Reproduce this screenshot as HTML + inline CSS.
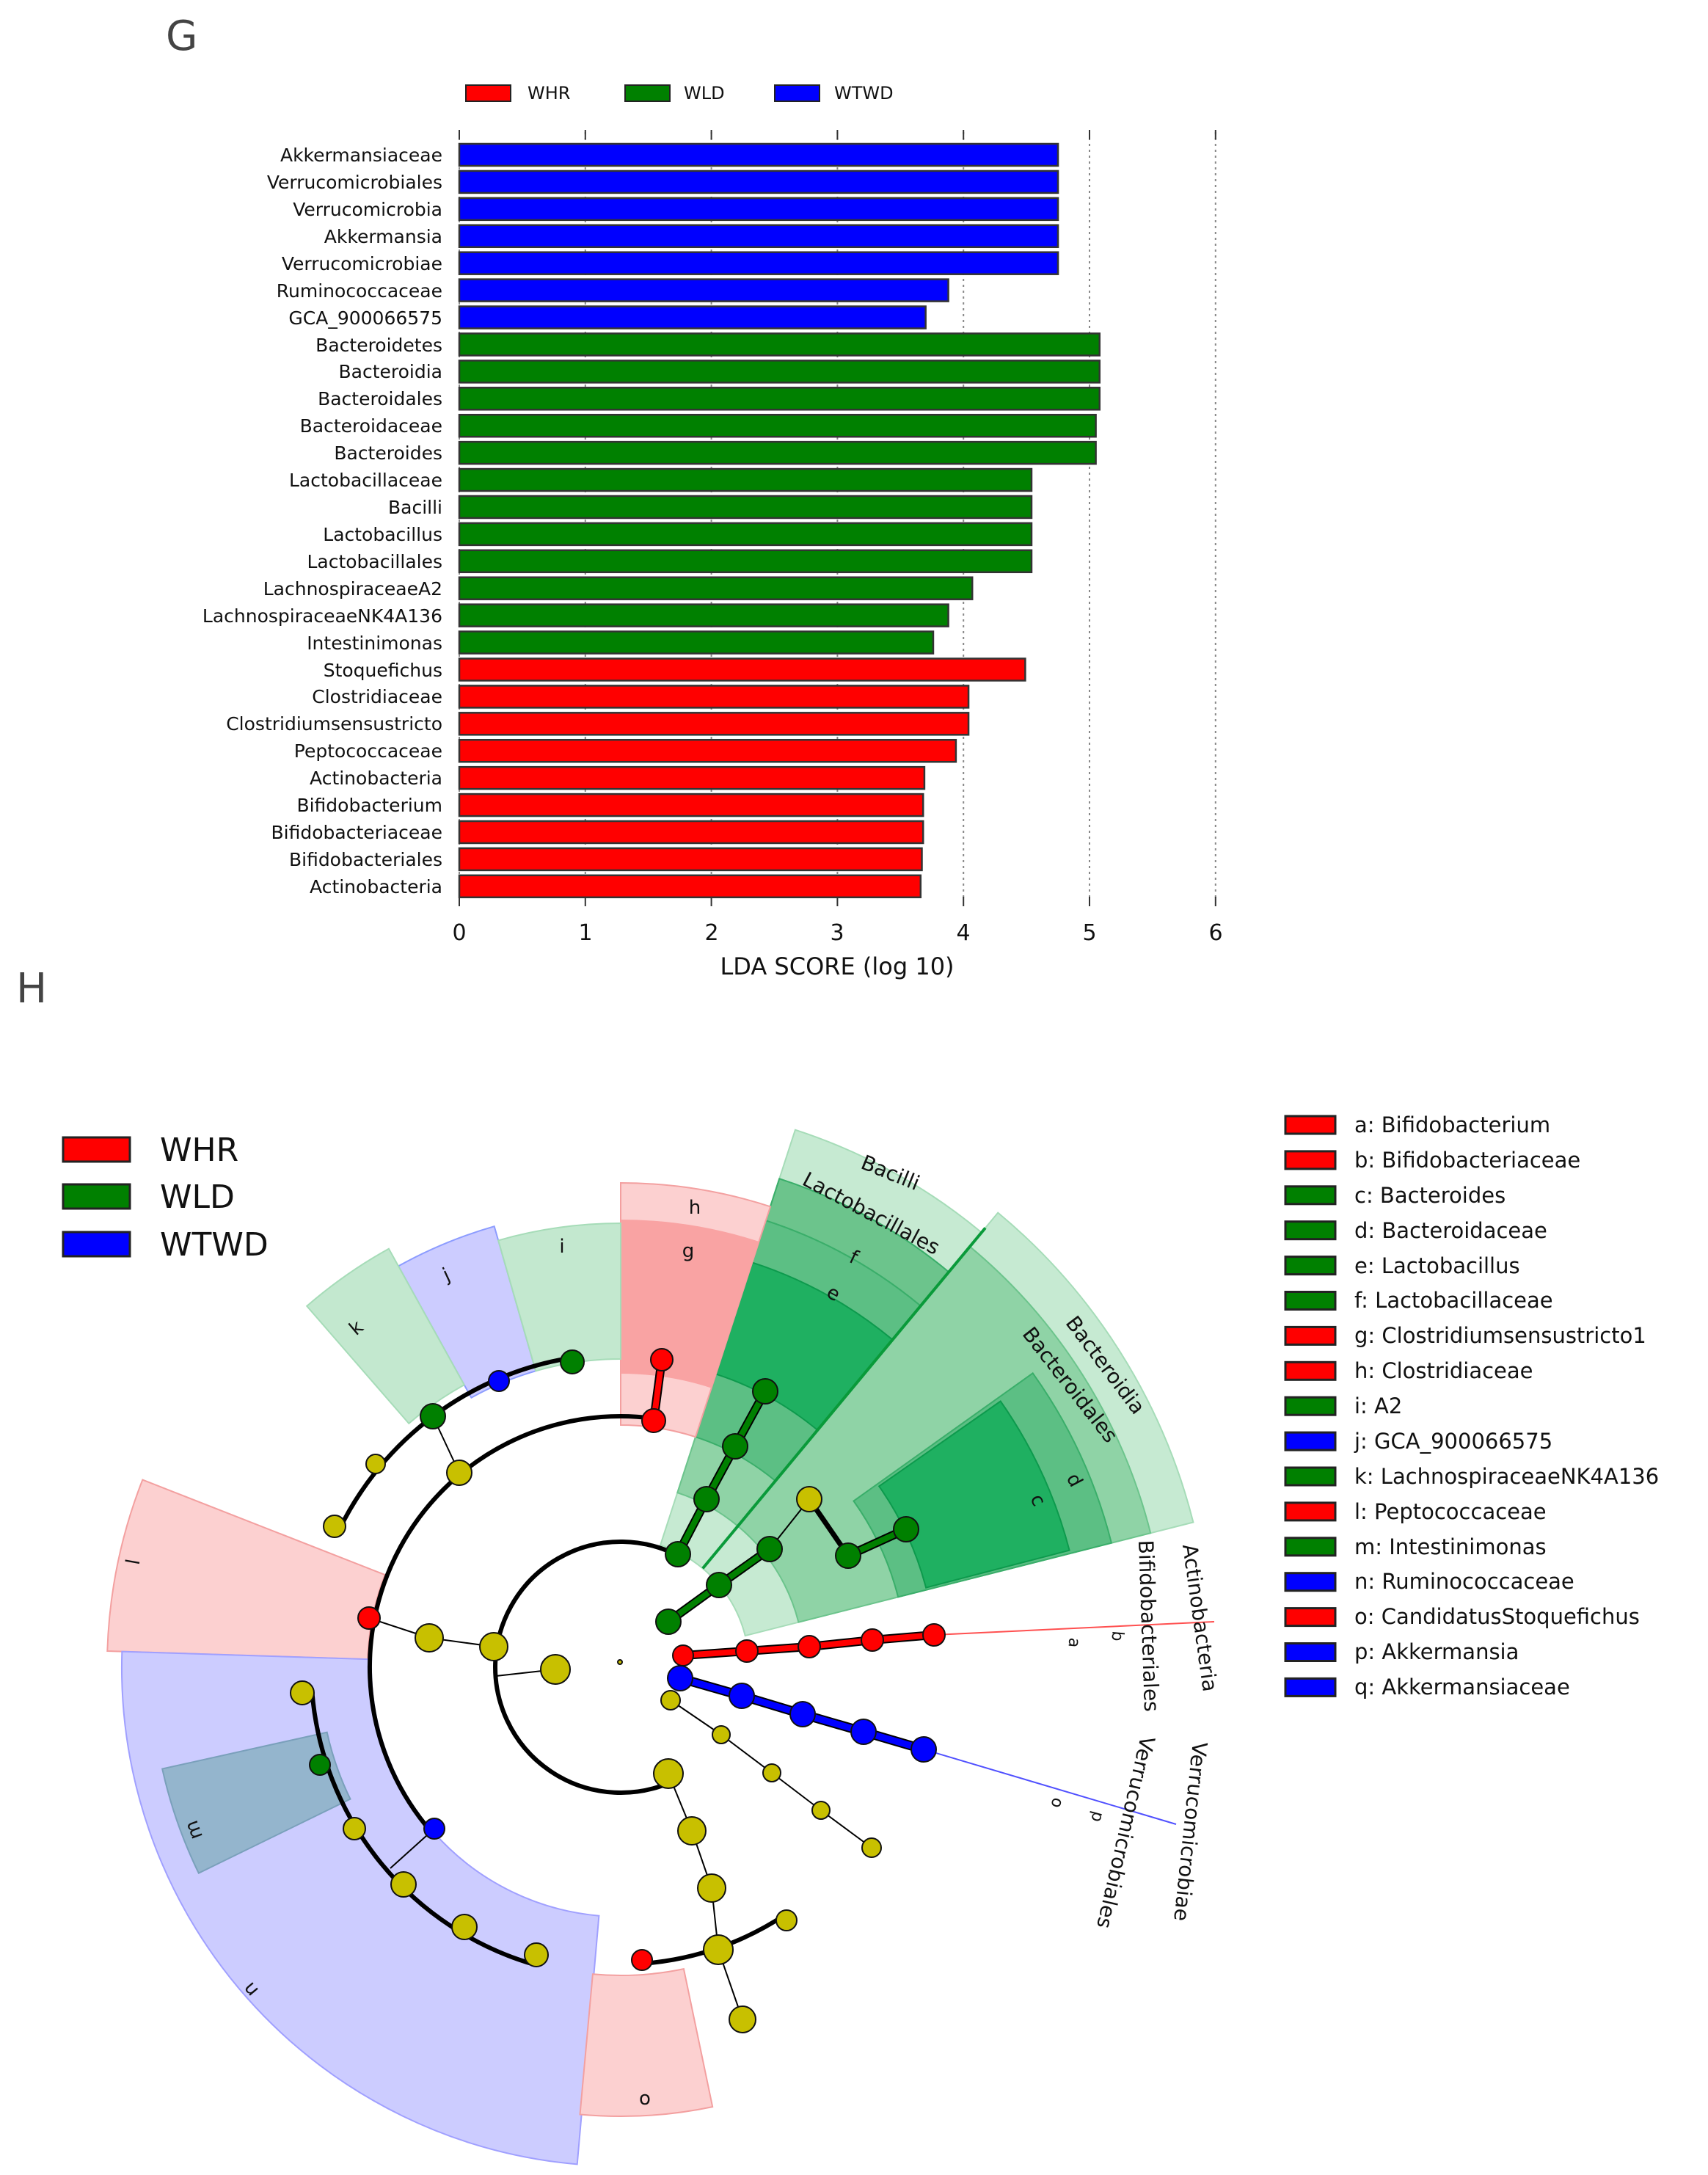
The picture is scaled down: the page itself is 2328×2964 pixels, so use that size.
<!DOCTYPE html>
<html><head><meta charset="utf-8"><style>
html,body{margin:0;padding:0;background:#fff;width:2328px;height:2964px;overflow:hidden}
svg{display:block}
text{font-family:"DejaVu Sans","Liberation Sans",sans-serif;fill:#111}
</style></head><body>
<svg id="s" width="2328" height="2964" viewBox="0 0 2328 2964" xmlns="http://www.w3.org/2000/svg">
<g id="sectors"></g>
<text x="226" y="68" font-size="56" style="fill:#444">G</text>
<text x="22" y="1366" font-size="56" style="fill:#444">H</text>
<!-- G legend -->
<rect x="635" y="116" width="61" height="22" fill="#ff0000" stroke="#222" stroke-width="2"/>
<text x="719" y="135" font-size="24">WHR</text>
<rect x="852" y="116" width="61" height="22" fill="#008000" stroke="#222" stroke-width="2"/>
<text x="932" y="135" font-size="24">WLD</text>
<rect x="1056" y="116" width="61" height="22" fill="#0000ff" stroke="#222" stroke-width="2"/>
<text x="1137" y="135" font-size="24">WTWD</text>
<g id="grid" stroke="#888" stroke-width="2" stroke-dasharray="3,5"></g>
<g id="bars"></g>
<g font-size="25" text-anchor="end">
<text x="603" y="220">Akkermansiaceae</text>
<text x="603" y="257">Verrucomicrobiales</text>
<text x="603" y="294">Verrucomicrobia</text>
<text x="603" y="331">Akkermansia</text>
<text x="603" y="368">Verrucomicrobiae</text>
<text x="603" y="405">Ruminococcaceae</text>
<text x="603" y="442">GCA_900066575</text>
<text x="603" y="479">Bacteroidetes</text>
<text x="603" y="515">Bacteroidia</text>
<text x="603" y="552">Bacteroidales</text>
<text x="603" y="589">Bacteroidaceae</text>
<text x="603" y="626">Bacteroides</text>
<text x="603" y="663">Lactobacillaceae</text>
<text x="603" y="700">Bacilli</text>
<text x="603" y="737">Lactobacillus</text>
<text x="603" y="774">Lactobacillales</text>
<text x="603" y="811">LachnospiraceaeA2</text>
<text x="603" y="848">LachnospiraceaeNK4A136</text>
<text x="603" y="885">Intestinimonas</text>
<text x="603" y="922">Stoquefichus</text>
<text x="603" y="958">Clostridiaceae</text>
<text x="603" y="995">Clostridiumsensustricto</text>
<text x="603" y="1032">Peptococcaceae</text>
<text x="603" y="1069">Actinobacteria</text>
<text x="603" y="1106">Bifidobacterium</text>
<text x="603" y="1143">Bifidobacteriaceae</text>
<text x="603" y="1180">Bifidobacteriales</text>
<text x="603" y="1217">Actinobacteria</text>
</g>
<g font-size="30" text-anchor="middle">
<text x="626" y="1281">0</text><text x="798" y="1281">1</text><text x="970" y="1281">2</text><text x="1141" y="1281">3</text><text x="1313" y="1281">4</text><text x="1485" y="1281">5</text><text x="1657" y="1281">6</text>
<text x="1141" y="1328" font-size="32">LDA SCORE (log 10)</text>
</g>
<!-- H left legend -->
<rect x="86" y="1550" width="91" height="33" fill="#ff0000" stroke="#222" stroke-width="3"/>
<rect x="86" y="1614" width="91" height="33" fill="#008000" stroke="#222" stroke-width="3"/>
<rect x="86" y="1679" width="91" height="33" fill="#0000ff" stroke="#222" stroke-width="3"/>
<text x="218" y="1582" font-size="44">WHR</text>
<text x="218" y="1646" font-size="44">WLD</text>
<text x="218" y="1711" font-size="44">WTWD</text>
<g id="rleg"></g>
<g font-size="29">
<text x="1846" y="1543">a: Bifidobacterium</text>
<text x="1846" y="1591">b: Bifidobacteriaceae</text>
<text x="1846" y="1639">c: Bacteroides</text>
<text x="1846" y="1687">d: Bacteroidaceae</text>
<text x="1846" y="1735">e: Lactobacillus</text>
<text x="1846" y="1782">f: Lactobacillaceae</text>
<text x="1846" y="1830">g: Clostridiumsensustricto1</text>
<text x="1846" y="1878">h: Clostridiaceae</text>
<text x="1846" y="1926">i: A2</text>
<text x="1846" y="1974">j: GCA_900066575</text>
<text x="1846" y="2022">k: LachnospiraceaeNK4A136</text>
<text x="1846" y="2070">l: Peptococcaceae</text>
<text x="1846" y="2118">m: Intestinimonas</text>
<text x="1846" y="2165">n: Ruminococcaceae</text>
<text x="1846" y="2213">o: CandidatusStoquefichus</text>
<text x="1846" y="2261">p: Akkermansia</text>
<text x="1846" y="2309">q: Akkermansiaceae</text>
</g>
<g id="tree"></g>
<g font-size="28" text-anchor="middle">
<text transform="translate(1210,1607) rotate(22)">Bacilli</text>
<text transform="translate(1183,1662) rotate(28)">Lactobacillales</text>
<text transform="translate(1499,1866) rotate(53)">Bacteroidia</text>
<text transform="translate(1451,1893) rotate(52)">Bacteroidales</text>
<text transform="translate(1626,2206) rotate(82)">Actinobacteria</text>
<text transform="translate(1556,2216) rotate(88)">Bifidobacteriales</text>
<text transform="translate(1613,2495) rotate(96)">Verrucomicrobiae</text>
<text transform="translate(1525,2495) rotate(103)">Verrucomicrobiales</text>
</g>
<g font-size="26" text-anchor="middle">
<text x="947" y="1654">h</text><text x="938" y="1713">g</text>
<text transform="translate(1160,1721) rotate(25)">f</text>
<text transform="translate(1132,1770) rotate(28)">e</text>
<text transform="translate(1457,2021) rotate(62)">d</text>
<text transform="translate(1407,2048) rotate(64)">c</text>
<text x="766" y="1707">i</text>
<text transform="translate(612,1745) rotate(-25)">j</text>
<text transform="translate(491,1816) rotate(-40)">k</text>
<text transform="translate(190,2130) rotate(-80)">l</text>
<text transform="translate(272,2491) rotate(-110)">m</text>
<text transform="translate(348,2706) rotate(-130)">n</text>
<text x="879" y="2868">o</text>
<text transform="translate(1457,2238) rotate(95)" font-size="22">a</text>
<text transform="translate(1516,2229) rotate(95)" font-size="22">b</text>
<text transform="translate(1434,2455) rotate(105)" font-size="22">o</text>
<text transform="translate(1489,2474) rotate(105)" font-size="22">p</text>
</g>
</svg>
<script>
var NS="http://www.w3.org/2000/svg";
function el(p,t,a){var e=document.createElementNS(NS,t);for(var k in a)e.setAttribute(k,a[k]);document.getElementById(p).appendChild(e);return e;}
var vals=[[4.75,'b'],[4.75,'b'],[4.75,'b'],[4.75,'b'],[4.75,'b'],[3.88,'b'],[3.70,'b'],[5.08,'g'],[5.08,'g'],[5.08,'g'],[5.05,'g'],[5.05,'g'],[4.54,'g'],[4.54,'g'],[4.54,'g'],[4.54,'g'],[4.07,'g'],[3.88,'g'],[3.76,'g'],[4.49,'r'],[4.04,'r'],[4.04,'r'],[3.94,'r'],[3.69,'r'],[3.68,'r'],[3.68,'r'],[3.67,'r'],[3.66,'r']];
var C={r:'#ff0000',g:'#008000',b:'#0000ff'};
for(var i=0;i<=6;i++){var x=626+i*171.8;el('grid','line',{x1:x,y1:180,x2:x,y2:1228});
el('s','line',{x1:x,y1:177,x2:x,y2:190,stroke:'#333','stroke-width':2});
el('s','line',{x1:x,y1:1222,x2:x,y2:1235,stroke:'#333','stroke-width':2});}
vals.forEach(function(v,i){var y=211+i*36.92;el('bars','rect',{x:626,y:y-15,width:v[0]*171.8,height:30,fill:C[v[1]],stroke:'#333','stroke-width':2.5});});
var lc='rrggggrrgbgrgbrbb';
for(var i=0;i<17;i++){el('rleg','rect',{x:1752,y:1521+i*47.9,width:68,height:24,fill:C[lc[i]],stroke:'#222','stroke-width':3});}
var cx=846,cy=2272;
function P(r,a){a=a*Math.PI/180;return (cx+r*Math.cos(a)).toFixed(1)+','+(cy+r*Math.sin(a)).toFixed(1);}
function sec(a1,a2,r1,r2,fill,stroke){var lg=(a2-a1)>180?1:0;
var d='M'+P(r2,a1)+' A'+r2+','+r2+' 0 '+lg+' 1 '+P(r2,a2)+' L'+P(r1,a2)+' A'+r1+','+r1+' 0 '+lg+' 0 '+P(r1,a1)+' Z';
el('sectors','path',{d:d,fill:fill,stroke:stroke||'none','stroke-width':2});}
// Bacteroidetes group
sec(-50.3,-14.2,175,805,'#c6ead2','#a6dcb8');
sec(-50.3,-14.2,250,745,'#8fd3a6','#6cc48c');
sec(-35.5,-14.2,390,690,'#5cbf84','#3aae6a');
sec(-35,-14.6,430,632,'#1fb061','#0d9a4d');
// Bacilli group
sec(-72,-50.3,175,770,'#c6ead2','#a6dcb8');
sec(-72,-50.3,250,700,'#8fd3a6','#6cc48c');
sec(-72,-50.3,640,700,'#6cc48c','#3aae6a');
sec(-72,-50.3,330,640,'#5cbf84','#3aae6a');
sec(-72,-50.3,420,580,'#1fb061','#0d9a4d');
el('sectors','line',{x1:P(175,-50.3).split(',')[0],y1:P(175,-50.3).split(',')[1],x2:P(778,-50.3).split(',')[0],y2:P(778,-50.3).split(',')[1],stroke:'#0a9a3a','stroke-width':4});
// g/h
sec(-90,-72,330,660,'#fcd0d0','#f3a0a0');
sec(-90,-72,400,610,'#f9a3a3','none');
sec(-119,-106,420,625,'#ccccff','#8c9cff');
sec(-106,-90,420,605,'#c3e8cf','#a6dcb8');
sec(-131,-119,440,652,'#c3e8cf','#a6dcb8');
sec(181.8,201.4,345,700,'#fcd0d0','#f3a0a0');
sec(95,181.8,340,680,'#ccccff','#a0a0ff');
sec(154,167.5,410,640,'#94b5cd','#7aa0bb');
sec(78.2,95.2,420,612,'#fcd0d0','#f3a0a0');
function arc(r,a1,a2,w){var lg=(a2-a1)>180?1:0;el('tree','path',{d:'M'+P(r,a1)+' A'+r+','+r+' 0 '+lg+' 1 '+P(r,a2),fill:'none',stroke:'#000','stroke-width':w||6});}
function ln(a,b,col,w){if(col){el('tree','line',{x1:a[0],y1:a[1],x2:b[0],y2:b[1],stroke:'#000','stroke-width':w+4});el('tree','line',{x1:a[0],y1:a[1],x2:b[0],y2:b[1],stroke:col,'stroke-width':w});}
else el('tree','line',{x1:a[0],y1:a[1],x2:b[0],y2:b[1],stroke:'#000','stroke-width':w||2});}
function chain(pts,col,w){for(var i=0;i<pts.length-1;i++)ln(pts[i],pts[i+1],col,w);}
var Y='#c8c000';
function nd(x,y,r,c){el('tree','circle',{cx:x,cy:y,r:r,fill:c,stroke:'#111','stroke-width':2});}
el('tree','line',{x1:1273,y1:2228,x2:1655,y2:2210,stroke:'#ff5050','stroke-width':2});
el('tree','line',{x1:1259,y1:2384,x2:1603,y2:2486,stroke:'#5050ff','stroke-width':2});
arc(171,66,298,6);
arc(342,139,278,6);
arc(427,206,261,6);
arc(422,106.4,175.4,6);
arc(405,56.8,85.8,6);
ln([757,2275],[676,2284]);
chain([[673,2244],[585,2232],[503,2205]]);
ln([626,2007],[590,1930]);
ln([592,2492],[532,2546]);
chain([[911,2417],[943,2495],[970,2573],[979,2657],[1012,2752]]);
chain([[914,2317],[983,2364],[1052,2416],[1119,2467],[1188,2518]]);
ln([1049,2111],[1103,2043]);
ln([1103,2043],[1156,2120],null,7);
chain([[891,1936],[902,1853]],'#ff0000',8);
chain([[924,2118],[963,2043],[1002,1971],[1043,1896]],'#008000',8);
chain([[911,2210],[980,2160],[1049,2111]],'#008000',8);
chain([[1156,2120],[1235,2084]],'#008000',8);
chain([[927,2287],[1011,2311],[1094,2336],[1177,2360],[1259,2384]],'#0000ff',9);
chain([[931,2256],[1018,2250],[1103,2244],[1189,2235],[1273,2228]],'#ff0000',8);
nd(845,2265,3,Y);
nd(924,2118,17,'#008000');nd(673,2244,19,Y);nd(911,2417,20,Y);nd(757,2275,20,Y);
nd(585,2232,19,Y);nd(503,2205,15,'#ff0000');nd(626,2007,17,Y);
nd(891,1936,16,'#ff0000');nd(902,1853,15,'#ff0000');
nd(590,1930,17,'#008000');nd(680,1882,14,'#0000ff');nd(780,1856,16,'#008000');nd(512,1995,13,Y);nd(456,2080,15,Y);
nd(592,2492,14,'#0000ff');
nd(412,2307,16,Y);nd(436,2405,14,'#008000');nd(483,2492,15,Y);nd(550,2568,17,Y);nd(633,2626,17,Y);nd(731,2664,16,Y);
nd(943,2495,19,Y);nd(970,2573,19,Y);nd(979,2657,20,Y);nd(875,2671,14,'#ff0000');nd(1072,2617,14,Y);nd(1012,2752,18,Y);
nd(914,2317,13,Y);nd(983,2364,12,Y);nd(1052,2416,12,Y);nd(1119,2467,12,Y);nd(1188,2518,13,Y);
[[927,2287],[1011,2311],[1094,2336],[1177,2360],[1259,2384]].forEach(function(p){nd(p[0],p[1],17,'#0000ff');});
[[931,2256],[1018,2250],[1103,2244],[1189,2235],[1273,2228]].forEach(function(p,i){nd(p[0],p[1],i?15:14,'#ff0000');});
[[963,2043],[1002,1971],[1043,1896],[911,2210],[980,2160],[1049,2111],[1156,2120],[1235,2084]].forEach(function(p){nd(p[0],p[1],17,'#008000');});
nd(1103,2043,17,Y);
</script>
</body></html>
